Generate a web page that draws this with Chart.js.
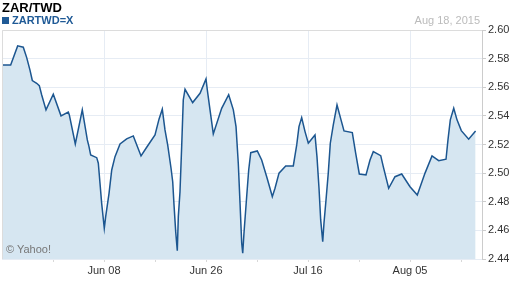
<!DOCTYPE html>
<html>
<head>
<meta charset="utf-8">
<script src="https://cdn.jsdelivr.net/npm/chart.js@4/dist/chart.umd.min.js"></script>
<style>
  html, body { margin: 0; padding: 0; background: #fff; }
  body { width: 512px; height: 288px; position: relative; overflow: hidden; font-family: "Liberation Sans", Arial, sans-serif; }
  #wrap { position: absolute; left: 0; top: 0; width: 512px; height: 288px; }
  .txt { position: absolute; white-space: nowrap; line-height: 1; }
  #title { left: 2px; top: 1px; font-size: 13px; font-weight: bold; color: #000; }
  #legend { left: 2px; top: 15px; font-size: 11px; font-weight: bold; color: #1f5a96; }
  #legend .sw { display: inline-block; width: 7px; height: 7px; background: #1f5a96; margin-right: 3px; vertical-align: 0px; }
  #date { right: 32px; top: 15px; font-size: 11px; color: #bbb; }
  #credit { left: 6px; top: 244px; font-size: 11px; color: #777; z-index: 2; }
</style>
</head>
<body>
<div id="wrap"><canvas id="c" width="512" height="288"></canvas></div>
<div class="txt" id="title">ZAR/TWD</div>
<div class="txt" id="legend"><span class="sw"></span>ZARTWD=X</div>
<div class="txt" id="date">Aug 18, 2015</div>
<div class="txt" id="credit">© Yahoo!</div>
<script>
// Trading-day index (0 = May 19, 2015 ... 65 = Aug 18, 2015)
const tradingDay = [0,1.19,2.15,2.92,3.39,3.84,4.16,4.76,5.12,5.45,6.04,7.04,8.10,9.10,9.24,10.06,11.02,11.71,
  11.94,12.17,13.00,13.22,13.45,13.68,14.04,14.23,14.69,15.06,15.51,16.20,17.11,18.02,19.08,19.86,21.00,21.55,22.00,22.37,22.74,23.20,
  23.43,23.61,23.84,24.06,24.20,24.43,24.66,24.88,25.12,26.17,27.18,28.00,28.18,28.55,29.00,30.15,31.11,31.75,32.12,32.43,32.67,32.90,33.04,33.21,33.58,33.86,34.14,35.04,
  35.64,36.33,36.78,37.10,37.47,38.02,38.94,39.98,40.45,40.76,41.13,41.59,42.04,42.96,43.23,43.51,43.74,44.02,44.19,44.47,44.78,45.06,45.47,45.98,46.53,46.94,
  48.08,48.54,49.04,49.96,50.51,50.96,51.98,52.33,53.07,53.94,54.86,56.00,57.00,58.06,
  59.02,59.94,60.94,61.21,61.53,62.00,62.45,63.04,64.05,65.00];
const rate = [2.5756,2.5756,2.5889,2.5880,2.5807,2.5720,2.5647,2.5628,2.5611,2.5546,2.5442,2.5551,2.5400,2.5426,2.5407,2.5204,2.5442,2.5232,
  2.5185,2.5127,2.5108,2.5069,2.4929,2.4789,2.4615,2.4696,2.4859,2.5022,2.5115,2.5204,2.5239,2.5260,2.5120,2.5181,2.5267,2.5377,2.5447,2.5302,2.5197,2.5034,
  2.4940,2.4777,2.4591,2.4458,2.4696,2.4870,2.5185,2.5511,2.5586,2.5493,2.5558,2.5658,2.5581,2.5442,2.5274,2.5453,2.5548,2.5442,2.5325,2.5069,2.4789,2.4510,2.4440,2.4580,2.4835,2.5022,2.5143,2.5155,
  2.5092,2.4975,2.4894,2.4835,2.4894,2.5000,2.5050,2.5050,2.5197,2.5325,2.5388,2.5290,2.5209,2.5267,2.5115,2.4894,2.4673,2.4521,2.4650,2.4812,2.5000,2.5209,2.5337,2.5476,2.5372,2.5295,
  2.5283,2.5139,2.4994,2.4987,2.5092,2.5150,2.5122,2.5045,2.4894,2.4975,2.4994,2.4905,2.4847,2.5000,
  2.5120,2.5087,2.5097,2.5232,2.5372,2.5453,2.5372,2.5297,2.5237,2.5295];
const tickDays = [7,14,21,28,35,42,49,56,63];
const tickLabels = ["","Jun 08","","Jun 26","","Jul 16","","Aug 05",""];
const yTicks = [2.44,2.46,2.48,2.50,2.52,2.54,2.56,2.58,2.60];

const points = tradingDay.map((d, i) => ({ x: d, y: rate[i] }));
const FONT = "'Liberation Sans', Arial, sans-serif";

const borderPlugin = {
  id: 'areaBorder',
  afterDraw(chart) {
    const a = chart.chartArea, ctx = chart.ctx;
    ctx.save();
    ctx.strokeStyle = '#dcdcdc';
    ctx.lineWidth = 1;
    ctx.beginPath();
    ctx.moveTo(a.left + 0.5, a.bottom);
    ctx.lineTo(a.left + 0.5, a.top + 0.5);
    ctx.lineTo(a.right, a.top + 0.5);
    ctx.stroke();
    ctx.restore();
  }
};

new Chart(document.getElementById('c'), {
  type: 'line',
  data: {
    datasets: [{
      data: points,
      borderColor: '#1c5690',
      borderWidth: 1.5,
      backgroundColor: '#d6e6f1',
      fill: 'start',
      pointRadius: 0,
      tension: 0
    }]
  },
  options: {
    responsive: false,
    animation: false,
    layout: { padding: { left: 2, top: 30, right: 0, bottom: 0 } },
    plugins: { legend: { display: false }, tooltip: { enabled: false } },
    scales: {
      x: {
        type: 'linear',
        min: 0,
        max: 65.88,
        afterBuildTicks(scale) { scale.ticks = tickDays.map(v => ({ value: v })); },
        afterFit(scale) { scale.height = 29; },
        ticks: {
          autoSkip: false,
          maxRotation: 0,
          padding: 2,
          color: '#333',
          font: { family: FONT, size: 11 },
          callback(value) { const i = tickDays.indexOf(value); return i >= 0 ? tickLabels[i] : ''; }
        },
        grid: {
          color(ctx) { const i = tickDays.indexOf(ctx.tick ? ctx.tick.value : -1); return (i >= 0 && tickLabels[i]) ? '#e6ecf4' : 'rgba(0,0,0,0)'; },
          tickColor: '#d8d8d8',
          tickLength: 3,
          drawTicks: true
        },
        border: { display: false }
      },
      y: {
        position: 'right',
        min: 2.44,
        max: 2.60,
        afterBuildTicks(scale) { scale.ticks = yTicks.map(v => ({ value: v })); },
        afterFit(scale) { scale.width = 30; },
        ticks: {
          padding: 2,
          color: '#333',
          font: { family: FONT, size: 11 },
          callback(value) { return Number(value).toFixed(2); }
        },
        grid: { color: '#e6ecf4', tickColor: '#cccccc', tickLength: 4 },
        border: { display: true, color: '#cccccc' }
      }
    }
  },
  plugins: [borderPlugin]
});
</script>
</body>
</html>
